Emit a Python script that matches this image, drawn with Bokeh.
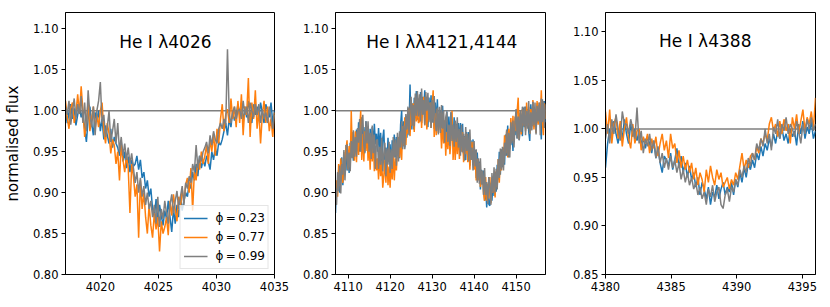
import numpy as np
from bokeh.plotting import figure
from bokeh.layouts import row
from bokeh.models import Range1d, FixedTicker, Span, Label, Legend, LegendItem, PrintfTickFormatter
from bokeh.embed import file_html
from bokeh.resources import INLINE

# ---------------- data ----------------
phase_labels = ["\u03d5\u2009=\u20090.23", "\u03d5\u2009=\u20090.77", "\u03d5\u2009=\u20090.99"]
colors = ["#1f77b4", "#ff7f0e", "#7f7f7f"]

# Panel 1: He I 4026   (flux values x 1000)
wl_start_4026, wl_step_4026 = 4017.0, 0.15
flux_4026_023 = [1000, 985, 998, 1008, 990, 1003, 982, 995, 1006, 992,
                 1000, 978, 962, 990, 1005, 985, 970, 998, 988, 1000,
                 975, 990, 965, 982, 970, 960, 978, 955, 968, 960,
                 955, 945, 962, 938, 950, 930, 944, 925, 940, 932,
                 935, 945, 928, 940, 918, 925, 905, 915, 895, 905,
                 880, 870, 892, 865, 885, 872, 860, 878, 868, 890,
                 870, 852, 880, 862, 885, 870, 895, 878, 890, 900,
                 895, 912, 905, 925, 915, 935, 920, 945, 930, 940,
                 932, 945, 938, 928, 950, 940, 955, 945, 962, 958,
                 965, 975, 985, 970, 990, 980, 1000, 988, 995, 1008,
                 995, 1010, 985, 1005, 992, 1012, 998, 985, 1008, 995,
                 1005, 990, 1010, 998, 985, 1008, 1000, 992, 1010, 985, 1000]
flux_4026_077 = [1012, 992, 978, 1003, 1010, 985, 997, 1020, 996, 1030,
                 1000, 968, 985, 1012, 975, 990, 1005, 978, 995, 980,
                 1000, 1010, 975, 960, 985, 972, 948, 965, 958, 935,
                 950, 915, 958, 940, 925, 945, 930, 875, 935, 920,
                 895, 910, 845, 915, 880, 900, 870, 850, 885, 860,
                 845, 875, 855, 870, 828, 865, 850, 858, 870, 848,
                 890, 872, 898, 880, 865, 895, 882, 905, 888, 910,
                 918, 900, 930, 878, 925, 915, 940, 928, 950, 935,
                 945, 958, 935, 965, 950, 972, 945, 978, 960, 990,
                 1008, 975, 995, 1002, 985, 1015, 990, 1005, 980, 1012,
                 985, 1020, 970, 1005, 995, 1040, 968, 1010, 990, 1025,
                 978, 1000, 960, 995, 1012, 985, 1005, 975, 990, 968, 998]
flux_4026_099 = [1005, 995, 1012, 983, 1000, 1015, 990, 1008, 996, 1018,
                 985, 1010, 975, 1025, 995, 980, 1005, 970, 1000, 1012,
                 1035, 985, 995, 968, 980, 1000, 962, 975, 990, 960,
                 985, 950, 968, 945, 960, 940, 955, 935, 948, 930,
                 912, 925, 900, 918, 895, 908, 885, 900, 880, 890,
                 870, 885, 862, 895, 858, 880, 868, 890, 875, 862,
                 885, 898, 875, 890, 902, 880, 895, 908, 885, 912,
                 905, 920, 912, 935, 925, 958, 930, 945, 938, 950,
                 955, 962, 948, 970, 958, 975, 965, 960, 978, 985,
                 978, 990, 982, 1075, 995, 985, 998, 1005, 990, 1000,
                 1002, 990, 1012, 995, 1005, 985, 1010, 1000, 992, 1008,
                 995, 1008, 985, 1002, 990, 998, 985, 1005, 992, 978, 995]

# Panel 2: He I 4121, 4144
wl_start_4121, wl_step_4121 = 4107.0, 0.25
flux_4121_023 = [875, 912, 900, 928, 900, 927, 943, 909, 940, 925, 958, 927, 947, 924, 961, 943, 970, 939, 964, 948,
                 977, 954, 986, 950, 975, 992, 955, 980, 950, 987, 963, 979, 943, 978, 953, 980, 956, 984, 959, 972,
                 950, 979, 952, 973, 937, 966, 977, 940, 955, 929, 967, 937, 959, 926, 964, 946, 971, 943, 968, 945,
                 968, 942, 983, 1000, 956, 987, 955, 986, 967, 1003, 978, 1032, 977, 1009, 977, 1016, 995, 1024, 989, 1015,
                 995, 1023, 985, 1017, 1000, 1025, 990, 1015, 980, 1016, 992, 1019, 986, 1005, 978, 1010, 983, 1014, 976, 995,
                 1000, 979, 1006, 970, 988, 960, 999, 970, 993, 959, 998, 970, 960, 992, 963, 984, 952, 985, 960, 985,
                 953, 984, 947, 969, 940, 974, 952, 974, 933, 964, 940, 965, 930, 952, 918, 949, 922, 938, 904, 928,
                 910, 927, 890, 909, 882, 904, 886, 884, 912, 890, 918, 896, 925, 901, 934, 916, 950, 922, 953, 931,
                 955, 934, 971, 945, 982, 943, 973, 958, 985, 951, 987, 970, 998, 966, 993, 964, 997, 991, 969, 1004,
                 980, 1005, 982, 1002, 975, 963, 1008, 981, 1011, 980, 1000, 975, 1009, 985, 1007, 990, 965, 1014, 989, 1012, 986]
flux_4121_077 = [905, 915, 895, 935, 908, 942, 920, 912, 950, 928, 953, 964, 929, 957, 931, 1000, 947, 974, 939, 975,
                 937, 974, 946, 976, 1000, 940, 972, 938, 975, 951, 978, 939, 965, 928, 966, 938, 966, 926, 952, 927,
                 942, 916, 950, 920, 939, 906, 920, 940, 912, 944, 909, 932, 906, 937, 916, 950, 915, 942, 927, 955,
                 968, 943, 966, 940, 981, 957, 992, 958, 987, 972, 1003, 969, 1002, 982, 1009, 974, 1016, 987, 1007, 985,
                 987, 1012, 979, 1005, 1017, 982, 1007, 977, 1006, 988, 1010, 979, 1005, 1025, 968, 997, 970, 1002, 973, 994,
                 983, 954, 986, 960, 988, 945, 974, 953, 981, 947, 966, 1000, 940, 971, 940, 972, 947, 975, 941, 960,
                 950, 974, 937, 968, 947, 972, 937, 961, 928, 962, 940, 962, 928, 945, 915, 941, 915, 936, 907, 918,
                 920, 899, 890, 919, 890, 911, 893, 919, 887, 915, 900, 923, 894, 926, 907, 941, 912, 943, 927, 953,
                 936, 970, 948, 975, 943, 978, 953, 991, 963, 994, 963, 993, 975, 999, 1016, 965, 998, 971, 1002, 982,
                 1000, 975, 1010, 982, 1005, 972, 1002, 981, 1013, 977, 1000, 973, 1012, 983, 1010, 990, 1025, 986, 970, 1009, 990]
flux_4121_099 = [905, 885, 925, 902, 933, 899, 935, 922, 952, 915, 944, 959, 927, 949, 926, 963, 942, 976, 944, 968,
                 944, 979, 961, 990, 950, 978, 995, 958, 948, 987, 960, 987, 950, 973, 941, 982, 948, 971, 929, 964,
                 965, 929, 956, 934, 967, 926, 948, 961, 920, 954, 934, 962, 924, 953, 929, 968, 943, 965, 933, 973,
                 938, 975, 955, 987, 953, 982, 953, 996, 977, 1005, 970, 1004, 1017, 982, 1007, 981, 1021, 994, 1024, 993,
                 1020, 987, 1027, 995, 1013, 983, 1023, 1000, 1022, 986, 1010, 979, 1013, 985, 1018, 987, 975, 1004, 971, 1005,
                 973, 1007, 978, 1000, 961, 992, 999, 962, 983, 957, 998, 963, 983, 956, 988, 962, 992, 955, 978, 945,
                 983, 949, 972, 939, 980, 951, 972, 938, 977, 940, 955, 927, 963, 932, 953, 912, 942, 911, 942, 910,
                 927, 897, 930, 897, 913, 886, 919, 909, 885, 924, 900, 931, 900, 929, 904, 941, 918, 954, 928, 956,
                 927, 961, 945, 977, 945, 973, 943, 986, 960, 988, 955, 986, 1002, 966, 993, 964, 1000, 974, 1005, 981,
                 1005, 970, 1000, 978, 1012, 972, 998, 976, 1011, 982, 1010, 971, 1006, 987, 1010, 970, 1015, 986, 1012, 979, 1008]

# Panel 3: He I 4388
wl_start_4388, wl_step_4388 = 4380.0, 0.16
flux_4388_023 = [960, 985, 1000, 990, 1008, 995, 985, 1002, 990, 1010,
                 995, 985, 1005, 992, 1000, 988, 998, 985, 990, 980,
                 992, 985, 975, 988, 970, 980, 965, 955, 972, 968,
                 962, 975, 958, 968, 980, 960, 972, 955, 965, 950,
                 962, 948, 955, 940, 950, 932, 945, 938, 928, 940,
                 922, 935, 930, 942, 928, 938, 945, 932, 940, 935,
                 945, 932, 948, 940, 955, 945, 960, 950, 965, 958,
                 968, 960, 975, 968, 982, 972, 985, 978, 990, 982,
                 995, 985, 998, 990, 1002, 988, 995, 985, 1000, 992,
                 998, 983, 1005, 995, 1008, 990, 1002, 995, 1008, 990, 998]
flux_4388_077 = [1018, 995, 1020, 985, 1005, 1012, 990, 1008, 982, 1000,
                 1012, 990, 980, 1005, 985, 998, 1000, 978, 992, 985,
                 995, 975, 990, 980, 992, 972, 985, 995, 978, 988,
                 970, 995, 980, 985, 965, 978, 960, 972, 958, 968,
                 955, 965, 948, 960, 942, 955, 948, 935, 958, 945,
                 962, 950, 942, 958, 948, 955, 940, 945, 950, 938,
                 948, 942, 955, 948, 962, 975, 958, 968, 960, 972,
                 975, 968, 982, 975, 990, 985, 995, 988, 1005, 1012,
                 998, 1005, 992, 1008, 995, 1010, 998, 1005, 985, 1012,
                 1000, 1015, 995, 1008, 1020, 998, 1012, 1005, 1018, 1000, 1032]
flux_4388_099 = [990, 1005, 985, 1010, 995, 1015, 1000, 988, 1018, 1005,
                 1005, 995, 1010, 1000, 990, 1022, 985, 998, 975, 990,
                 982, 995, 978, 988, 970, 982, 965, 975, 960, 970,
                 958, 972, 960, 968, 955, 965, 948, 958, 945, 955,
                 942, 950, 938, 945, 932, 940, 928, 935, 922, 938,
                 930, 942, 925, 935, 940, 922, 918, 932, 938, 925,
                 940, 935, 948, 942, 958, 950, 962, 955, 970, 962,
                 975, 968, 985, 978, 990, 982, 1000, 985, 995, 978,
                 1002, 995, 1010, 990, 1005, 998, 1012, 995, 1005, 1000,
                 992, 1008, 998, 985, 1005, 995, 1010, 1000, 1012, 998, 1005]

panels = [
    dict(title="He I \u03bb4026", start=wl_start_4026, step=wl_step_4026,
         series=[flux_4026_023, flux_4026_077, flux_4026_099],
         xr=(4017, 4035), yr=(0.80, 1.12), xt=[4020, 4025, 4030, 4035],
         yt=[0.80, 0.85, 0.90, 0.95, 1.00, 1.05, 1.10], tx=4025.6, ty=1.0835),
    dict(title="He I \u03bb\u03bb4121,4144", start=wl_start_4121, step=wl_step_4121,
         series=[flux_4121_023, flux_4121_077, flux_4121_099],
         xr=(4107, 4157), yr=(0.80, 1.12), xt=[4110, 4120, 4130, 4140, 4150],
         yt=[0.80, 0.85, 0.90, 0.95, 1.00, 1.05, 1.10], tx=4132.3, ty=1.0835),
    dict(title="He I \u03bb4388", start=wl_start_4388, step=wl_step_4388,
         series=[flux_4388_023, flux_4388_077, flux_4388_099],
         xr=(4380, 4396), yr=(0.85, 1.12), xt=[4380, 4385, 4390, 4395],
         yt=[0.85, 0.90, 0.95, 1.00, 1.05, 1.10], tx=4387.6, ty=1.0905),
]

FONT = "DejaVu Sans"
borders = [(64, 16), (45, 15), (45, 15)]
figs = []
for k, pc in enumerate(panels):
    bl, br = borders[k]
    p = figure(width=bl + 210 + br, height=12 + 262 + 25, output_backend="svg",
               toolbar_location=None, x_range=Range1d(*pc["xr"]), y_range=Range1d(*pc["yr"]),
               min_border_left=bl, min_border_right=br, min_border_top=12, min_border_bottom=25)
    p.title.visible = False
    p.grid.visible = False
    p.outline_line_color = "black"
    p.outline_line_width = 1
    p.background_fill_color = "white"
    p.border_fill_color = "white"
    for ax in (p.xaxis[0], p.yaxis[0]):
        ax.axis_line_color = "black"
        ax.major_tick_line_color = "black"
        ax.major_tick_in = 0
        ax.major_tick_out = 4
        ax.minor_tick_line_color = None
        ax.major_label_text_font = FONT
        ax.major_label_text_font_size = "11.5px"
        ax.major_label_text_color = "black"
        ax.major_label_standoff = 3
    p.xaxis[0].ticker = FixedTicker(ticks=pc["xt"])
    p.yaxis[0].ticker = FixedTicker(ticks=pc["yt"])
    p.xaxis[0].formatter = PrintfTickFormatter(format="%d")
    p.yaxis[0].formatter = PrintfTickFormatter(format="%.2f")
    if k == 0:
        p.yaxis[0].axis_label = "normalised flux"
        p.yaxis[0].axis_label_text_font = FONT
        p.yaxis[0].axis_label_text_font_size = "15px"
        p.yaxis[0].axis_label_text_font_style = "normal"
        p.yaxis[0].axis_label_text_color = "black"
        p.yaxis[0].axis_label_standoff = 8

    p.add_layout(Span(location=1.0, dimension="width", line_color="#7f7f7f",
                      line_width=1.5, level="underlay"))
    renderers = []
    for s, c in zip(pc["series"], colors):
        y = np.array(s) / 1000.0
        x = pc["start"] + pc["step"] * np.arange(len(y))
        renderers.append(p.line(x, y, line_color=c, line_width=1.5))
    p.add_layout(Label(x=pc["tx"], y=pc["ty"], text=pc["title"], text_align="center",
                       text_baseline="alphabetic", text_font=FONT, text_font_size="17px",
                       text_color="black"))
    if k == 0:
        legend = Legend(items=[LegendItem(label=lab, renderers=[r])
                               for lab, r in zip(phase_labels, renderers)],
                        location="bottom_right")
        legend.label_text_font = FONT
        legend.label_text_font_size = "12px"
        legend.label_text_color = "black"
        legend.glyph_width = 24
        legend.glyph_height = 18
        legend.label_height = 18
        legend.label_standoff = 8
        legend.spacing = 1
        legend.padding = 3
        legend.margin = 5
        legend.border_line_color = "#cccccc"
        legend.background_fill_alpha = 0.8
        p.add_layout(legend)
    figs.append(p)

layout = row(*figs)
open("out.html", "w").write(file_html(layout, INLINE))
